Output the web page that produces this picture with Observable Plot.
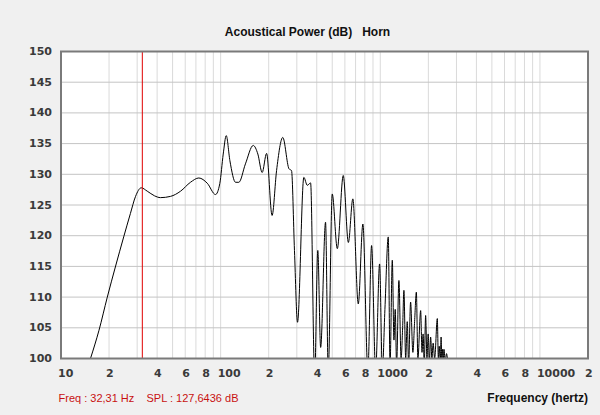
<!DOCTYPE html>
<html>
<head>
<meta charset="utf-8">
<script src="https://cdn.jsdelivr.net/npm/d3@7"></script>
<script src="https://cdn.jsdelivr.net/npm/@observablehq/plot@0.6"></script>
<style>
  html, body { margin: 0; padding: 0; background: #f0f0f0; }
  #chart svg text { white-space: pre; }
</style>
</head>
<body>
<div id="chart"></div>
<script>
// Frequency (Hz) and acoustical power (dB)
const freq = [15.3, 17.3, 19.5, 21.9, 24.7, 27.2, 29.3, 31.8, 34.7, 38.5, 42.0, 48.5, 56.1, 64.7, 73, 82.4, 92.9, 98.8, 103.8, 108.4,
  114.3, 124, 130, 143, 160, 171, 182, 194, 210, 224, 245, 268, 278, 290, 303, 332, 349, 366, 388, 406,
  423, 454, 472, 500, 538, 586, 631, 673, 728, 778, 836, 882, 935, 990, 1030, 1069, 1122, 1151, 1189, 1218,
  1240, 1265, 1308, 1350, 1380, 1406, 1442, 1475, 1505, 1548, 1600, 1640, 1682, 1720, 1790, 1825, 1854, 1885, 1923, 1960,
  1995, 2030, 2067, 2105, 2143, 2190, 2276, 2310, 2340, 2375, 2404, 2430, 2455, 2480, 2505, 2550, 2600, 2650, 2700];
const spl = [100.0, 104.6, 110.0, 114.9, 119.8, 123.6, 126.4, 127.8, 127.25, 126.5, 126.2, 126.4, 127.25, 128.7, 129.4, 128.55, 126.7, 128.5, 133.3, 136.3,
  132.2, 128.7, 128.7, 131.7, 134.7, 133.3, 130.3, 133.4, 123.3, 130.6, 136.0, 130.9, 130.6, 117.6, 105.9, 129.5, 128.2, 128.6, 97, 117.6,
  101.8, 122.2, 98, 126.8, 117.9, 129.8, 118.9, 126.0, 108.9, 121.9, 98, 118.4, 98, 115.4, 98, 108, 119.8, 99, 116, 103,
  108, 99, 112.7, 100, 105, 111.1, 100, 106, 99, 109.2, 101, 106, 110.8, 100, 107.8, 101, 104, 99, 107, 100,
  104, 99.5, 103.5, 100, 102.5, 100, 106.5, 100, 102, 99.5, 103.5, 99.5, 101.5, 99.5, 101.5, 99.5, 100.8, 99.5, 99];

const cursorFreq = 32.31;
const title = "Acoustical Power (dB)   Horn";
const cursorText = "Freq : 32,31 Hz    SPL : 127,6436 dB";
const xTitle = "Frequency (hertz)";

const xTickValues = [10, 20, 40, 60, 80, 100, 200, 400, 600, 800, 1000, 2000, 4000, 6000, 8000, 10000, 20000];
const xTickLabels = ["10", "2", "4", "6", "8", "100", "2", "4", "6", "8", "1000", "2", "4", "6", "8", "10000", "2"];
const yTickValues = [100, 105, 110, 115, 120, 125, 130, 135, 140, 145, 150];

const gridX = [];
for (const dec of [10, 100, 1000, 10000]) for (let m = 1; m <= 9; m++) gridX.push(dec * m);
gridX.push(20000);
const gridY = yTickValues;

const data = freq.map((f, i) => ({f, db: spl[i]}));

const tickFont = {fontFamily: "DejaVu Sans", fontWeight: "bold", fontSize: 11, fill: "#3a3a3a"};

const chart = Plot.plot({
  width: 600,
  height: 415,
  marginLeft: 60.5,
  marginRight: 12.5,
  marginTop: 51,
  marginBottom: 57,
  x: {type: "log", domain: [10, 20000], axis: null},
  y: {domain: [100, 150], axis: null},
  style: {background: "transparent", overflow: "visible"},
  marks: [
    Plot.frame({fill: "white", stroke: null}),
    Plot.ruleX(gridX, {x: d => d, stroke: "#dadada", strokeWidth: 1}),
    Plot.ruleY(gridY, {y: d => d, stroke: "#c4c4c4", strokeWidth: 1}),
    Plot.line(data, {x: "f", y: "db", stroke: "black", strokeWidth: 1, curve: "monotone-x", clip: true}),
    Plot.ruleX([cursorFreq], {x: d => d, stroke: "#e00000", strokeWidth: 1}),
    Plot.frame({stroke: "#7a7a7a", strokeWidth: 2}),
    Plot.text(xTickValues, {x: d => d, text: (d, i) => xTickLabels[i], frameAnchor: "bottom", dy: 18, dx: -3, textAnchor: "start", ...tickFont}),
    Plot.text(yTickValues, {y: d => d, text: d => String(d), frameAnchor: "left", dx: -9, textAnchor: "end", ...tickFont}),
    Plot.text([title], {frameAnchor: "top", dy: -24, dx: -17, fontFamily: "Liberation Sans", fontWeight: "bold", fontSize: 12, fill: "#111"}),
    Plot.text([cursorText], {frameAnchor: "bottom-left", dy: 43, dx: -2.5, textAnchor: "start", fontFamily: "Liberation Sans", fontSize: 11, fill: "#c81010"}),
    Plot.text([xTitle], {frameAnchor: "bottom-right", dy: 43, dx: 0, textAnchor: "end", fontFamily: "Liberation Sans", fontWeight: "bold", fontSize: 12, fill: "#111"})
  ]
});
document.getElementById("chart").appendChild(chart);
</script>
</body>
</html>
